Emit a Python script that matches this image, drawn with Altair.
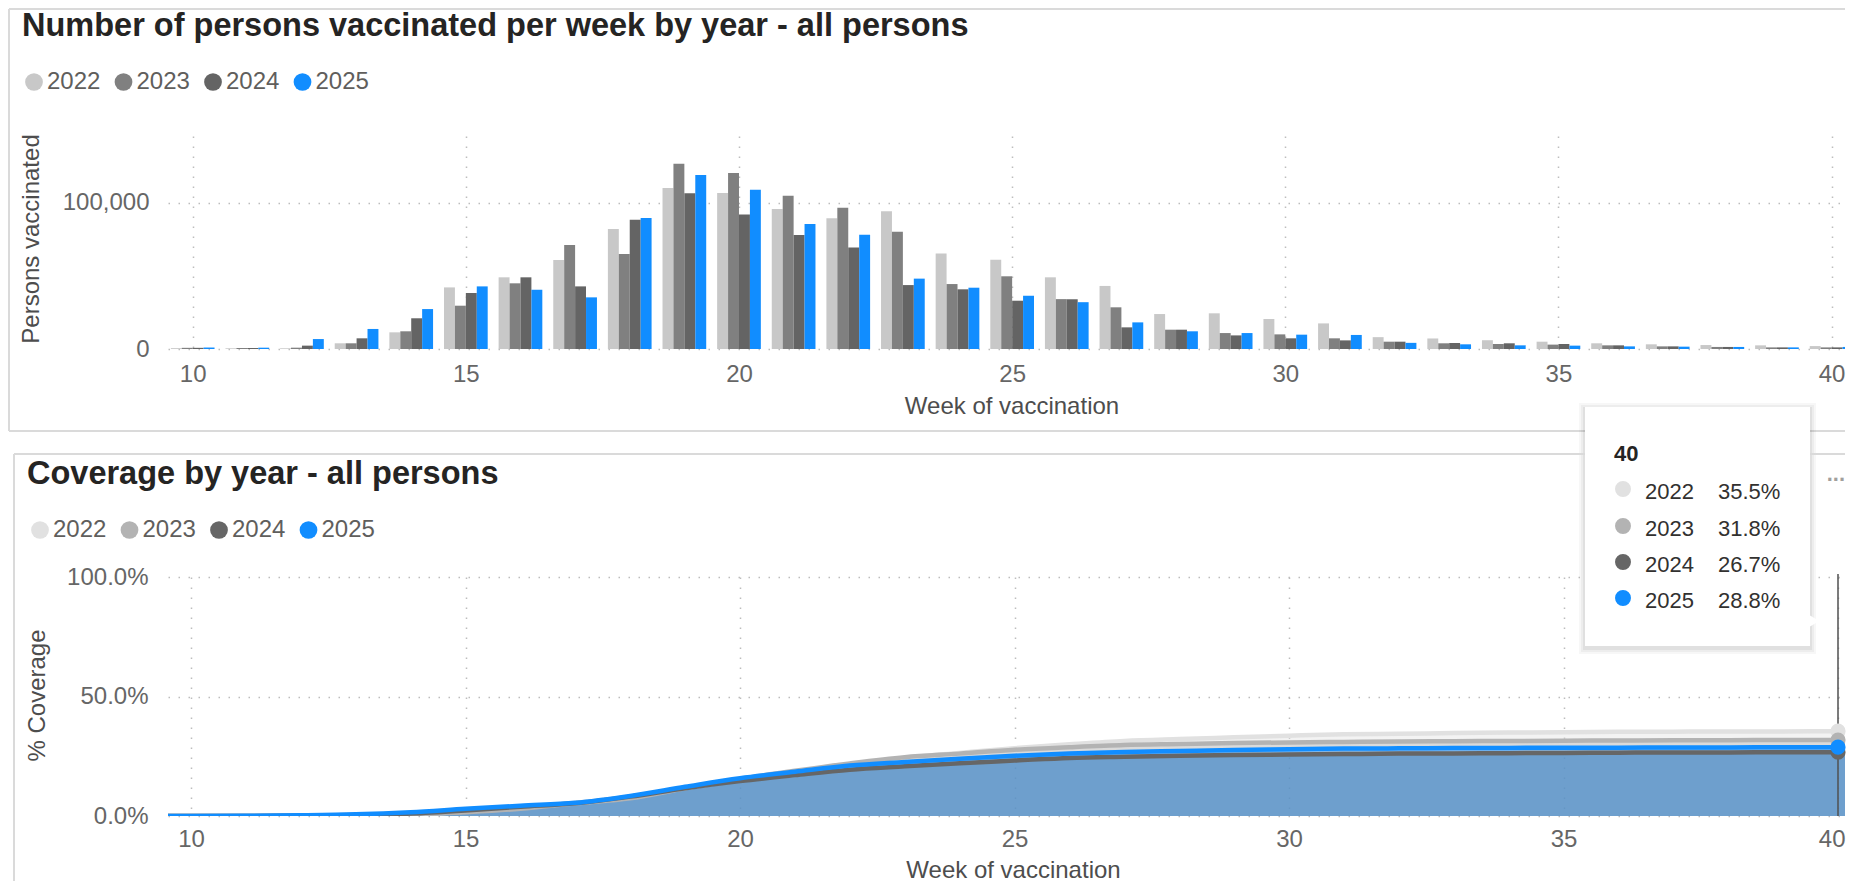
import altair as alt
import pandas as pd

# ---------------- data ----------------
YEARS = ["2022", "2023", "2024", "2025"]
WEEKS = list(range(10, 41))

VAC_2022 = [600, 500, 500, 3900, 11400, 42100, 49000, 60800, 82000, 110000, 106600,
            95700, 89300, 94100, 65200, 61000, 49000, 43100, 23900, 24400, 20500,
            17500, 8100, 7200, 6000, 5000, 3900, 3200, 2700, 2500, 2000]
VAC_2023 = [800, 700, 900, 3900, 12100, 29600, 44900, 71100, 64900, 126700, 120300,
            104800, 96600, 80200, 44400, 49700, 34100, 28500, 13200, 10900, 10000,
            7300, 5000, 3900, 3400, 3000, 2500, 1800, 1400, 1100, 1100]
VAC_2024 = [800, 700, 2300, 7300, 21000, 38300, 49000, 42800, 88400, 106400, 92000,
            77900, 69300, 43700, 40800, 33000, 34000, 14800, 13200, 9300, 7300,
            5900, 5000, 4100, 3900, 3400, 2500, 1800, 1400, 1100, 1100]
VAC_2025 = [1000, 900, 6800, 13700, 27300, 42800, 40500, 35300, 89500, 118900, 108900,
            85400, 78100, 48100, 41900, 36400, 32000, 18200, 12100, 10900, 9800,
            9600, 4200, 3200, 2500, 2300, 1800, 1600, 1400, 1100, 1400]

COV_WEEKS = list(range(9, 42))
COV_2022 = [0.0, 0.0, 0.0, 0.1, 0.2, 0.5, 1.9, 3.5, 5.5, 8.2, 11.7, 15.2, 18.3, 21.2,
            24.3, 26.4, 28.4, 30.0, 31.4, 32.2, 32.9, 33.6, 34.2, 34.4, 34.7, 34.9,
            35.0, 35.2, 35.3, 35.4, 35.4, 35.5, 35.5]
COV_2023 = [0.0, 0.0, 0.0, 0.1, 0.2, 0.6, 1.6, 3.0, 5.3, 7.4, 11.6, 15.5, 18.9, 22.0,
            24.6, 26.1, 27.7, 28.8, 29.7, 30.1, 30.5, 30.8, 31.0, 31.2, 31.3, 31.4,
            31.5, 31.6, 31.7, 31.7, 31.8, 31.8, 31.8]
COV_2024 = [0.0, 0.0, 0.0, 0.1, 0.4, 1.0, 2.3, 3.9, 5.3, 8.1, 11.6, 14.6, 17.1, 19.4,
            20.8, 22.1, 23.2, 24.3, 24.8, 25.2, 25.5, 25.7, 25.9, 26.1, 26.2, 26.3,
            26.4, 26.5, 26.6, 26.6, 26.7, 26.7, 26.7]
COV_2025 = [0.0, 0.0, 0.1, 0.3, 0.7, 1.6, 3.0, 4.3, 5.5, 8.4, 12.2, 15.8, 18.5, 21.1,
            22.6, 24.0, 25.2, 26.2, 26.8, 27.2, 27.6, 27.9, 28.2, 28.3, 28.4, 28.5,
            28.6, 28.6, 28.7, 28.7, 28.8, 28.8, 28.8]

X_TICKS = [10, 15, 20, 25, 30, 35, 40]
HOVER_WEEK = 40

TITLE_TOP = "Number of persons vaccinated per week by year - all persons"
TITLE_BOT = "Coverage by year - all persons"

TOP_COLORS = ["#c8c8c8", "#808080", "#646464", "#118dff"]
BOT_COLORS = ["#e1e1e1", "#b3b3b3", "#666666", "#118dff"]

# ---------------- style ----------------
FONT = "Liberation Sans"
W = 1677
H_TOP = 213
H_BOT = 239
BORDER = "#dadada"
GRID = dict(grid=True, gridDash=[1.5, 8.5], gridColor="#bdbdbd", gridWidth=1.5,
            domain=False, ticks=False, tickSize=0,
            labelFont=FONT, labelFontSize=24, labelColor="#666666",
            titleFont=FONT, titleFontSize=24, titleFontWeight="normal", titleColor="#4d4d4d")

VAC = {"2022": VAC_2022, "2023": VAC_2023, "2024": VAC_2024, "2025": VAC_2025}
COV = {"2022": COV_2022, "2023": COV_2023, "2024": COV_2024, "2025": COV_2025}

bar_rows = []
for i, yr in enumerate(YEARS):
    for w, v in zip(WEEKS, VAC[yr]):
        x0 = w - 0.4 + 0.2 * i
        bar_rows.append({"year": yr, "week": w, "x0": x0, "x1": x0 + 0.2, "value": v})
bars_df = pd.DataFrame(bar_rows)

cov_rows = []
for yr in YEARS:
    for w, c in zip(COV_WEEKS, COV[yr]):
        cov_rows.append({"year": yr, "week": w, "cov": c / 100.0})
cov_df = pd.DataFrame(cov_rows)
hover_df = cov_df[cov_df["week"] == HOVER_WEEK].reset_index(drop=True)

ONE = pd.DataFrame({"k": [0]})


def legend(lx, ly):
    return alt.Legend(title=None, orient="none", legendX=lx, legendY=ly, direction="horizontal",
                      symbolType="circle", symbolSize=314, symbolStrokeWidth=0, symbolOpacity=1,
                      labelFont=FONT, labelFontSize=24, labelColor="#605e5c", labelOffset=1,
                      columnPadding=10.5, padding=0, rowPadding=0)


def rule(x, x2, y, y2, color=BORDER, width=2):
    return alt.Chart(ONE).mark_rule(color=color, strokeWidth=width).encode(
        x=alt.value(x), x2=alt.value(x2), y=alt.value(y), y2=alt.value(y2))


def text(t, x, y, size, weight="normal", color="#252423", align="left", baseline="alphabetic"):
    return alt.Chart(pd.DataFrame({"t": [t]})).mark_text(
        font=FONT, fontSize=size, fontWeight=weight, color=color, align=align, baseline=baseline
    ).encode(x=alt.value(x), y=alt.value(y), text="t:N")


# ---------------- top chart ----------------
X_TOP = alt.Scale(domain=[9.548, 9.548 + W / 54.63], nice=False, zero=False)
bars = alt.Chart(bars_df).mark_bar(clip=True).encode(
    x=alt.X("x0:Q", scale=X_TOP,
            axis=alt.Axis(values=X_TICKS, format="d", title="Week of vaccination",
                          labelPadding=32, labelBaseline="alphabetic",
                          titleX=843.5, titleY=64, titleAlign="center", titleBaseline="alphabetic",
                          **GRID)),
    x2="x1:Q",
    y=alt.Y("value:Q", scale=alt.Scale(domain=[0, 145600], nice=False),
            axis=alt.Axis(values=[0, 100000], format=",.0f", title="Persons vaccinated",
                          labelPadding=19, labelBaseline="middle",
                          titleX=-137, titleY=102.5, titleAlign="center", titleBaseline="middle",
                          **GRID)),
    y2=alt.datum(0),
    color=alt.Color("year:N", scale=alt.Scale(domain=YEARS, range=TOP_COLORS),
                    legend=legend(-146, -66)),
)

top = alt.layer(
    bars,
    text(TITLE_TOP, -146, -100, 32.5, weight="bold"),
    rule(-159, -159, -127, 295),
    rule(-159, W, -127, -127),
    rule(-159, W, 295, 295),
).properties(width=W, height=H_TOP)

# ---------------- bottom chart ----------------
X_BOT = alt.Scale(domain=[9.581, 9.581 + W / 54.9], nice=False, zero=False)
Y_BOT = alt.Scale(domain=[0, 1], nice=False)
C_BOT = alt.Scale(domain=YEARS, range=BOT_COLORS)
X_AXIS_BOT = alt.Axis(values=X_TICKS, format="d", title="Week of vaccination",
                      labelPadding=30, labelBaseline="alphabetic",
                      labelFlush=10, labelFlushOffset=7,
                      titleX=845, titleY=61, titleAlign="center", titleBaseline="alphabetic",
                      **GRID)
Y_AXIS_BOT = alt.Axis(values=[0, 0.5, 1], format=".1%", title="% Coverage",
                      labelPadding=20, labelBaseline="middle",
                      titleX=-131, titleY=118, titleAlign="center", titleBaseline="middle",
                      **GRID)

areas = alt.Chart(cov_df).mark_area(opacity=0.4, interpolate="monotone", clip=True).encode(
    x=alt.X("week:Q", scale=X_BOT, axis=X_AXIS_BOT),
    y=alt.Y("cov:Q", scale=Y_BOT, stack=None, axis=Y_AXIS_BOT),
    color=alt.Color("year:N", scale=C_BOT, legend=None),
)

lines = alt.Chart(cov_df).mark_line(strokeWidth=4.5, interpolate="monotone", clip=True).encode(
    x=alt.X("week:Q", scale=X_BOT, axis=X_AXIS_BOT),
    y=alt.Y("cov:Q", scale=Y_BOT, axis=Y_AXIS_BOT),
    color=alt.Color("year:N", scale=C_BOT, legend=None),
)

hover_rule = alt.Chart(pd.DataFrame({"week": [HOVER_WEEK]})).mark_rule(
    color="#505050", strokeWidth=1.5).encode(
    x=alt.X("week:Q", scale=X_BOT, axis=X_AXIS_BOT),
    y=alt.value(-3), y2=alt.value(H_BOT),
)

points = alt.Chart(hover_df).mark_circle(size=230, opacity=1).encode(
    x=alt.X("week:Q", scale=X_BOT, axis=X_AXIS_BOT),
    y=alt.Y("cov:Q", scale=Y_BOT, axis=Y_AXIS_BOT),
    color=alt.Color("year:N", scale=C_BOT, legend=legend(-140, -59)),
)

# tooltip card (static annotation of the hovered week)
TT_X0, TT_X1, TT_Y0, TT_Y1 = 1417, 1642, -170, 69
tooltip_layers = []
for k, a in [(6, 0.03), (4, 0.04), (2, 0.05)]:
    tooltip_layers.append(
        alt.Chart(ONE).mark_rect(color="black", opacity=a).encode(
            x=alt.value(TT_X0 - k), x2=alt.value(TT_X1 + k),
            y=alt.value(TT_Y0 - k + 2), y2=alt.value(TT_Y1 + k + 2)))
tooltip_layers.append(
    alt.Chart(ONE).mark_rect(color="white", opacity=1).encode(
        x=alt.value(TT_X0), x2=alt.value(TT_X1), y=alt.value(TT_Y0), y2=alt.value(TT_Y1)))
tooltip_layers.append(
    alt.Chart(ONE).mark_point(shape="triangle-right", filled=True, color="white",
                              size=220, opacity=1).encode(
        x=alt.value(TT_X1 + 3), y=alt.value(44)))
tooltip_layers.append(text(str(HOVER_WEEK), 1446, -116, 22, weight="bold"))
row_y = [-88, -51, -15, 21]
for i, yr in enumerate(YEARS):
    val = hover_df.loc[hover_df["year"] == yr, "cov"].iloc[0]
    tooltip_layers.append(
        alt.Chart(ONE).mark_circle(size=254, opacity=1, color=BOT_COLORS[i]).encode(
            x=alt.value(1455), y=alt.value(row_y[i])))
    tooltip_layers.append(text(yr, 1477, row_y[i] + 10, 22, color="#323130"))
    tooltip_layers.append(text(f"{val * 100:.1f}%", 1550, row_y[i] + 10, 22, color="#323130"))

bottom = alt.layer(
    areas, lines, hover_rule, points,
    *tooltip_layers,
    text("...", W, -96, 22, weight="bold", color="#a19f9d", align="right"),
    text(TITLE_BOT, -141, -93, 32.5, weight="bold"),
    rule(-154, -154, -123, 304),
    rule(-154, TT_X0, -123, -123),
    rule(TT_X1, W, -123, -123),
).resolve_scale(color="independent").resolve_legend(color="independent").properties(
    width=W, height=H_BOT)

chart = alt.vconcat(top, bottom, spacing=228, bounds="flush").resolve_scale(
    x="independent", y="independent", color="independent"
).properties(
    padding={"left": 0, "top": 0, "right": 0, "bottom": 0}
).configure(font=FONT, background="white").configure_view(strokeWidth=0, stroke="transparent")

chart.save("out.html", embed_options={"renderer": "svg", "actions": False})
